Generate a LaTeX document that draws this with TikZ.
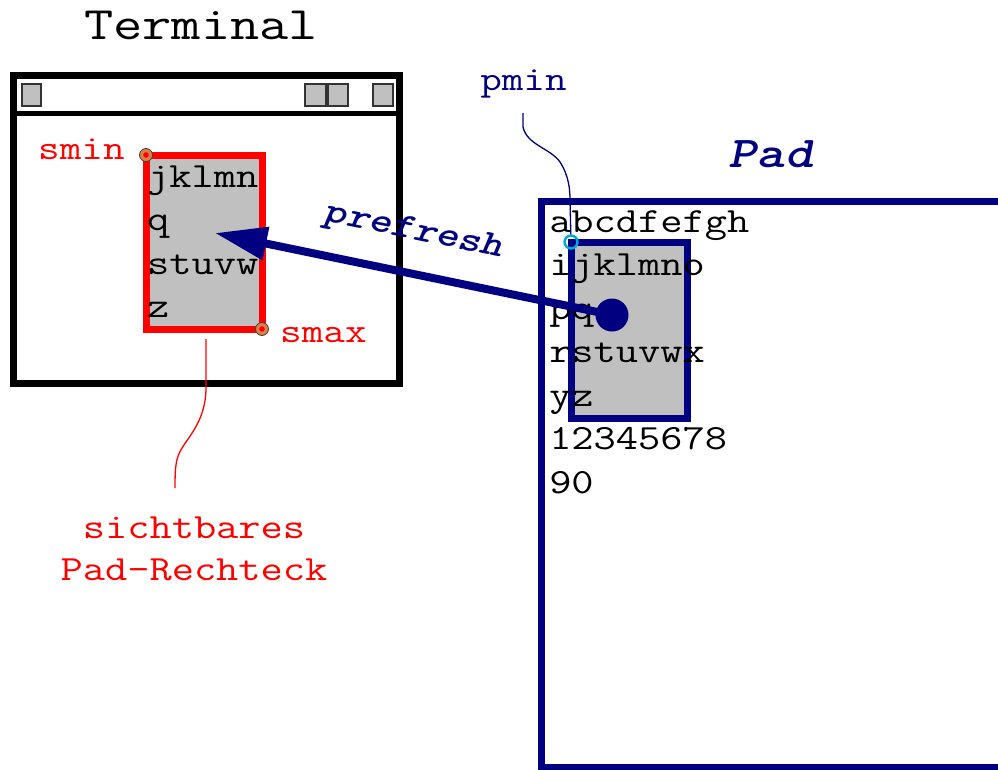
\documentclass[tikz,border=0pt]{standalone}
\usepackage{fontspec}
\usetikzlibrary{arrows.meta,calc}
\definecolor{padblue}{RGB}{0,0,128}
\definecolor{boxgray}{RGB}{192,192,192}
\definecolor{markorange}{RGB}{222,128,72}
\definecolor{markcyan}{RGB}{0,170,220}

\begin{document}
\begin{tikzpicture}[x=1pt, y=-1pt,
        txt/.style={font=\ttfamily\fontsize{#1}{#1}\selectfont, xscale=1.22, inner sep=0pt, anchor=base west},
        txt/.default=35.4,
        headline/.style={font=\ttfamily\bfseries\itshape\fontsize{#1}{#1}\selectfont, xscale=1.22, text=padblue, inner sep=0pt, anchor=base},
        btn/.style={draw=black!80, line width=2pt, fill=boxgray},
        smark/.style={circle, draw=black!75, line width=0.8pt, fill=markorange, minimum size=13pt, inner sep=0pt,
            path picture={\fill[red] (path picture bounding box.center) circle (2.8pt);}},
        pmark/.style={circle, draw=markcyan, line width=2.4pt, minimum size=13pt, inner sep=0pt},
        leader/.style={line width=1.3pt}]
        \useasboundingbox (0,0) rectangle (998,769);

        % Terminal window
        \node[txt=46.5, anchor=base] (term_title) at (201,39) {Terminal};
        \draw[line width=7pt] (13,75) rectangle (399,383);
        \draw[line width=5pt] (13,113) -- (399,113);
        \foreach \bx/\bw in {22/19, 305/21, 328/20, 373/20}
            \draw[btn] (\bx,84) rectangle ++(\bw,22);

        % visible part of the pad (red box)
        \draw[line width=7pt, red, fill=boxgray] (146,155) coordinate (smin) rectangle (262,329) coordinate (smax);
        \foreach \t [count=\i from 0] in {jklmn,q,stuvw,z}
            \node[txt] (vis_\i) at (147,187+43.5*\i) {\t};
        \node[smark] (smin_mark) at (smin) {};
        \node[smark] (smax_mark) at (smax) {};
        \node[txt=34.4, text=red] (smin_label) at (38,159) {smin};
        \node[txt=34.4, text=red] (smax_label) at (280,342) {smax};

        % note below the terminal
        \coordinate (red_top) at (206,339);
        \coordinate (red_end) at (175,488);
        \draw[leader, red] (red_top) -- (206,390) .. controls (205,420) and (190,435) .. (182,448)
            .. controls (176,458) and (175,465) .. (red_end);
        \node[txt, text=red, anchor=base] (note_a) at (194,538) {sichtbares};
        \node[txt, text=red, anchor=base] (note_b) at (194,580) {Pad-Rechteck};

        % Pad
        \node[headline=44] (pad_title) at (771,167) {Pad};
        \draw[padblue, line width=7pt] (1005,201) -- (541,201) -- (541,767) -- (1005,767);
        \draw[padblue, line width=7pt, fill=boxgray] (571,242) coordinate (pmin) rectangle (687,418) coordinate (pmax);
        \foreach \t [count=\i from 0] in {abcdfefgh,ijklmno,pq,rstuvwx,yz,12345678,90}
            \node[txt] (pad_\i) at (549,232+43.5*\i) {\t};

        % pmin with its leader
        \node[txt=34.4, text=padblue] (pmin_label) at (480,90) {pmin};
        \node[pmark] (pmin_mark) at (pmin) {};
        \coordinate (blue_top) at (523,113);
        \draw[leader, padblue] (blue_top) -- (523,127) .. controls (527,145) and (550,148) .. (560,162)
            .. controls (569,176) and (570,190) .. (570,200) -- (pmin_mark);

        % prefresh arrow
        \node[circle, fill=padblue, minimum size=33pt, inner sep=0pt] (src_dot) at (612,315) {};
        \coordinate (arrow_tip) at (215,233);
        \draw[padblue, line width=8pt, -{Triangle[length=52pt,width=32pt]}] (src_dot.center) -- (arrow_tip);
        \node[rotate=-11.5, headline=35.5] (refresh_label) at (412,239) {prefresh};
    \end{tikzpicture}
\end{document}
